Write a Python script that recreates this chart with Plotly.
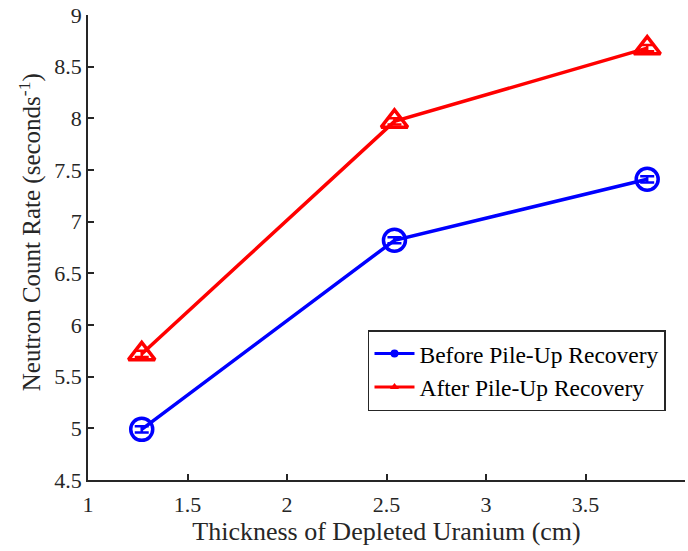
import plotly.graph_objects as go

thickness_cm = [1.27, 2.54, 3.81]
rate_before = [4.99, 6.82, 7.41]
rate_after = [5.72, 7.97, 8.68]
err_before = [0.03, 0.03, 0.03]
err_after = [0.03, 0.03, 0.03]

x_ticks = [1, 1.5, 2, 2.5, 3, 3.5, 4]
y_ticks = [4.5, 5, 5.5, 6, 6.5, 7, 7.5, 8, 8.5, 9]

names = ["Before Pile-Up Recovery", "After Pile-Up Recovery"]
colors = ["#0000ff", "#ff0000"]

font_family = "Liberation Serif, Times New Roman, serif"
axis_color = "#262626"

fig = go.Figure()
# data series with large open markers and small error bars
fig.add_trace(go.Scatter(
    x=thickness_cm, y=rate_before, name=names[0], showlegend=False,
    mode="lines+markers",
    line=dict(color=colors[0], width=3.5),
    marker=dict(symbol="circle-open", size=22, color=colors[0], line=dict(width=3.5)),
    error_y=dict(type="data", array=err_before, color=colors[0], thickness=2.5, width=7),
))
fig.add_trace(go.Scatter(
    x=thickness_cm, y=rate_after, name=names[1], showlegend=False,
    mode="lines+markers",
    line=dict(color=colors[1], width=3.5),
    marker=dict(symbol="triangle-up-open", size=23, color=colors[1], line=dict(width=3.5)),
    error_y=dict(type="data", array=err_after, color=colors[1], thickness=2.5, width=7),
))
# legend entries with compact markers
for name, color, sym in zip(names, colors, ["circle", "triangle-up"]):
    fig.add_trace(go.Scatter(
        x=[None], y=[None], name=name, mode="lines+markers",
        line=dict(color=color, width=3),
        marker=dict(symbol=sym, size=8, color=color),
    ))

axis_common = dict(
    showgrid=False, zeroline=False, showline=True, linecolor=axis_color, linewidth=1.5,
    ticks="inside", ticklen=6, tickwidth=1.5, tickcolor=axis_color,
    tickfont=dict(family=font_family, size=22, color=axis_color),
    mirror=False,
)

fig.update_layout(
    width=688, height=551,
    margin=dict(l=88, r=3, t=15, b=71),
    paper_bgcolor="white", plot_bgcolor="white",
    font=dict(family=font_family, color=axis_color),
    xaxis=dict(range=[1, 4], tickvals=x_ticks, ticktext=[f"{v:g}" for v in x_ticks],
               ticklabelstandoff=4,
               title=dict(text="Thickness of Depleted Uranium (cm)",
                          font=dict(family=font_family, size=26, color=axis_color), standoff=6),
               **axis_common),
    yaxis=dict(range=[4.5, 9], tickvals=y_ticks, ticktext=[f"{v:g}" for v in y_ticks],
               **axis_common),
    annotations=[dict(
        text="Neutron Count Rate (seconds<sup>-1</sup>)", textangle=-90,
        xref="paper", yref="paper", x=-0.097, y=0.533, xanchor="center", yanchor="middle",
        showarrow=False, font=dict(family=font_family, size=25, color=axis_color),
    )],
    legend=dict(x=0.469, y=0.322, xanchor="left", yanchor="top",
                bgcolor="white", bordercolor=axis_color, borderwidth=1.5,
                font=dict(family=font_family, size=23.5, color="black"),
                tracegroupgap=0, itemwidth=40),
    showlegend=True,
)

fig.write_html("out.html")
